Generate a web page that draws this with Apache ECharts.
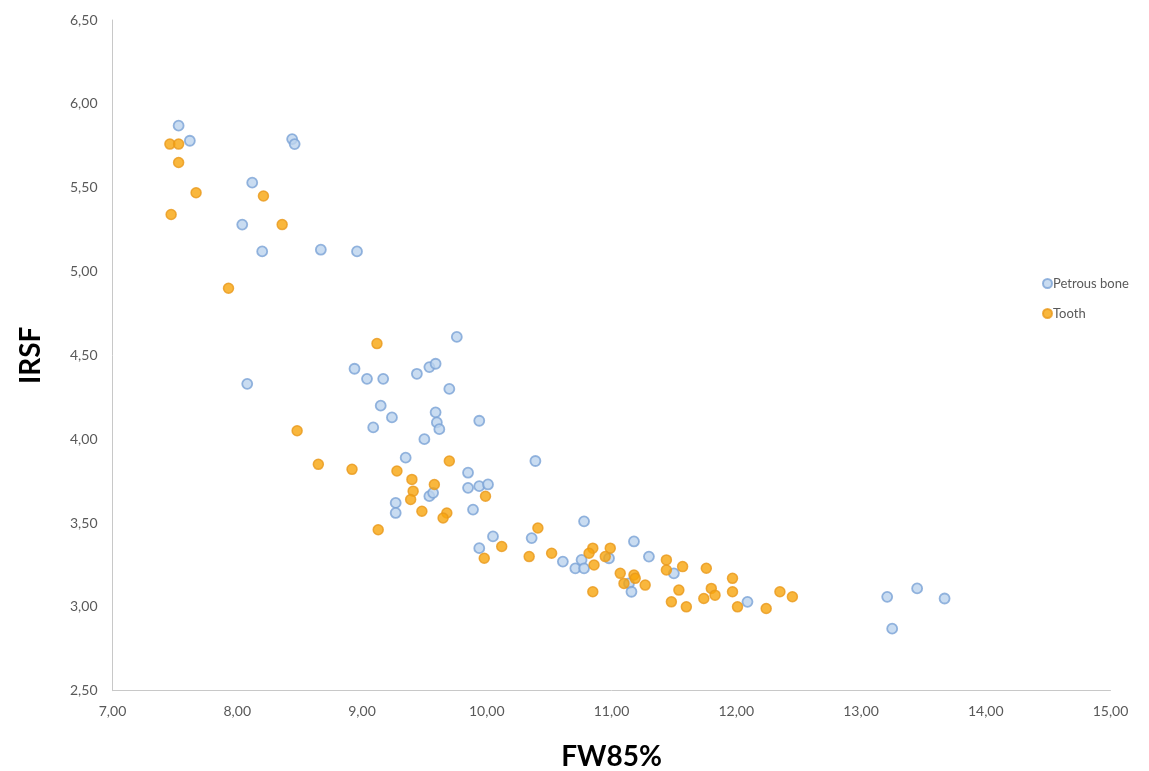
<!DOCTYPE html>
<html>
<head>
<meta charset="utf-8">
<script src="https://cdn.jsdelivr.net/npm/echarts@6/dist/echarts.min.js"></script>
<style>
  html, body { margin: 0; padding: 0; background: #ffffff; }
  #chart { width: 1149px; height: 771px; }
</style>
</head>
<body>
<div id="chart"></div>
<script>
// FW85% (x) against IRSF (y) for the two sample types
const seriesNames = ['Petrous bone', 'Tooth'];

const petrousFW = [
  7.53, 7.62, 8.44, 8.46, 8.12, 8.04, 8.20, 8.67, 8.96, 8.08,
  8.94, 9.04, 9.17, 9.15, 9.24, 9.09, 9.27, 9.27, 9.76, 9.44,
  9.54, 9.59, 9.70, 9.59, 9.60, 9.62, 9.94, 9.50, 9.35, 10.39,
  9.85, 9.85, 9.94, 10.01, 9.54, 9.57, 9.89, 10.78, 10.05, 10.36,
  9.94, 11.18, 10.61, 10.71, 10.76, 10.78, 11.30, 10.98, 11.50, 11.14,
  11.16, 12.09, 13.21, 13.45, 13.67, 13.25
];
const petrousIRSF = [
  5.87, 5.78, 5.79, 5.76, 5.53, 5.28, 5.12, 5.13, 5.12, 4.33,
  4.42, 4.36, 4.36, 4.20, 4.13, 4.07, 3.62, 3.56, 4.61, 4.39,
  4.43, 4.45, 4.30, 4.16, 4.10, 4.06, 4.11, 4.00, 3.89, 3.87,
  3.80, 3.71, 3.72, 3.73, 3.66, 3.68, 3.58, 3.51, 3.42, 3.41,
  3.35, 3.39, 3.27, 3.23, 3.28, 3.23, 3.30, 3.29, 3.20, 3.14,
  3.09, 3.03, 3.06, 3.11, 3.05, 2.87
];

const toothFW = [
  7.46, 7.53, 7.53, 7.67, 7.47, 8.21, 8.36, 7.93, 9.12, 8.48,
  8.65, 8.92, 9.28, 9.13, 9.70, 9.40, 9.41, 9.58, 9.39, 9.48,
  9.68, 9.65, 9.99, 10.41, 10.12, 9.98, 10.34, 10.52, 10.85, 10.82,
  10.99, 10.95, 10.86, 11.07, 11.18, 11.19, 11.10, 10.85, 11.27, 11.44,
  11.44, 11.57, 11.76, 11.97, 11.54, 11.80, 11.83, 11.97, 12.35, 12.45,
  11.48, 11.60, 11.74, 12.01, 12.24
];
const toothIRSF = [
  5.76, 5.76, 5.65, 5.47, 5.34, 5.45, 5.28, 4.90, 4.57, 4.05,
  3.85, 3.82, 3.81, 3.46, 3.87, 3.76, 3.69, 3.73, 3.64, 3.57,
  3.56, 3.53, 3.66, 3.47, 3.36, 3.29, 3.30, 3.32, 3.35, 3.32,
  3.35, 3.30, 3.25, 3.20, 3.19, 3.17, 3.14, 3.09, 3.13, 3.28,
  3.22, 3.24, 3.23, 3.17, 3.10, 3.11, 3.07, 3.09, 3.09, 3.06,
  3.03, 3.00, 3.05, 3.00, 2.99
];

const xTicks = { min: 7, max: 15, step: 1 };
const yTicks = { min: 2.5, max: 6.5, step: 0.5 };

const pairs = (xs, ys) => xs.map((x, i) => [x, ys[i]]);
const comma = v => v.toFixed(2).replace('.', ',');

const chart = echarts.init(document.getElementById('chart'), null, { renderer: 'canvas' });

const labelFont = 'Lato, "Open Sans", sans-serif';

chart.setOption({
  backgroundColor: '#ffffff',
  animation: false,
  grid: {
    left: 112.5, right: 38.5, top: 20, bottom: 80.3,
    containLabel: false,
    outerBoundsMode: 'none'
  },
  legend: {
    orient: 'vertical',
    left: 1037,
    top: 272,
    itemWidth: 9,
    itemHeight: 9,
    itemGap: 17,
    icon: 'circle',
    textStyle: { color: '#595959', fontSize: 13, fontFamily: labelFont, padding: [0, 0, 0, -4] },
    data: seriesNames
  },
  xAxis: {
    type: 'value',
    min: xTicks.min,
    max: xTicks.max,
    interval: xTicks.step,
    name: 'FW85%',
    nameLocation: 'middle',
    nameGap: 52,
    nameTextStyle: { color: '#000000', fontSize: 28, fontWeight: 'bold', fontFamily: labelFont },
    axisLine: { show: true, lineStyle: { color: '#c8c8c8', width: 1 } },
    axisTick: { show: false },
    splitLine: { show: false },
    axisLabel: { color: '#595959', fontSize: 14, fontFamily: labelFont, margin: 14, formatter: comma }
  },
  yAxis: {
    type: 'value',
    min: yTicks.min,
    max: yTicks.max,
    interval: yTicks.step,
    name: 'IRSF',
    nameLocation: 'middle',
    nameGap: 68,
    nameTextStyle: { color: '#000000', fontSize: 28, fontWeight: 'bold', fontFamily: labelFont },
    axisLine: { show: true, lineStyle: { color: '#c8c8c8', width: 1 } },
    axisTick: { show: false },
    splitLine: { show: false },
    axisLabel: { color: '#595959', fontSize: 14, fontFamily: labelFont, margin: 15, formatter: comma }
  },
  series: [
    {
      name: seriesNames[0],
      type: 'scatter',
      symbol: 'circle',
      symbolSize: 10,
      itemStyle: { color: '#bcd3ee', borderColor: '#7aa2d6', borderWidth: 1.8 },
      data: pairs(petrousFW, petrousIRSF)
    },
    {
      name: seriesNames[1],
      type: 'scatter',
      symbol: 'circle',
      symbolSize: 10,
      itemStyle: { color: '#f7a50c', borderColor: '#e8981c', borderWidth: 1.5 },
      data: pairs(toothFW, toothIRSF)
    }
  ]
});
</script>
</body>
</html>
